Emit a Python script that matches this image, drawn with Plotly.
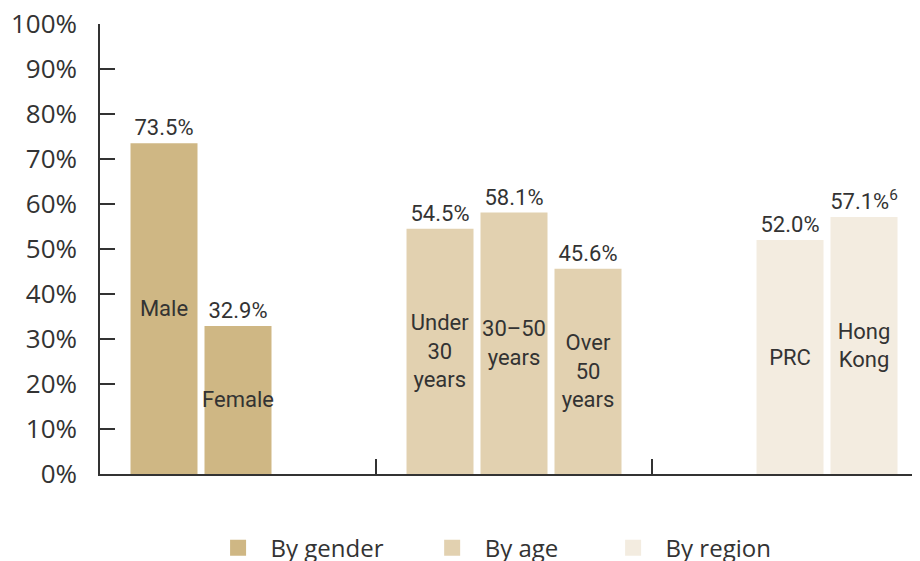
import plotly.graph_objects as go

# ---- data ----
groups = ["By gender", "By age", "By region"]
group_colors = ["#CFB784", "#E2D1B0", "#F3ECE0"]

gender_names = ["Male", "Female"]
gender_values = [73.5, 32.9]
gender_notes = ["", ""]
gender_slots = [0, 1]

age_names = ["Under<br>30<br>years", "30–50<br>years", "Over<br>50<br>years"]
age_values = [54.5, 58.1, 45.6]
age_notes = ["", "", ""]
age_slots = [0, 1, 2]

region_names = ["PRC", "Hong<br>Kong"]
region_values = [52.0, 57.1]
region_notes = ["", "6"]
region_slots = [1, 2]

legend_trailing = [7, 8, 0]

y_tick_values = list(range(0, 101, 10))
y_tick_labels = [f"{v}%" for v in y_tick_values]

# ---- build slot traces ----
group_data = [
    (gender_names, gender_values, gender_notes, gender_slots),
    (age_names, age_values, age_notes, age_slots),
    (region_names, region_values, region_notes, region_slots),
]

TEXT_COLOR = "#333333"
narrow = "Roboto, Open Sans, sans-serif"
wide = "Open Sans, Noto Sans, sans-serif"

fig = go.Figure()
for s in range(3):
    xs, ys, names, labels, colors = [], [], [], [], []
    for g, (nm, vals, notes, slots) in enumerate(group_data):
        if s in slots:
            i = slots.index(s)
            xs.append(groups[g])
            ys.append(vals[i])
            names.append(nm[i])
            lab = f"{vals[i]:.1f}%"
            if notes[i]:
                lab += f"<sup>{notes[i]}</sup>"
            labels.append(lab)
            colors.append(group_colors[g])
    fig.add_trace(go.Bar(
        x=xs, y=ys, offsetgroup=str(s), marker=dict(color=colors, line=dict(width=0)),
        text=names, textposition="inside", insidetextanchor="middle",
        constraintext="none", textangle=0,
        insidetextfont=dict(family=narrow, size=22, color=TEXT_COLOR),
        showlegend=False, hoverinfo="skip",
    ))
    fig.add_trace(go.Bar(
        x=xs, y=ys, offsetgroup=str(s), marker=dict(color="rgba(0,0,0,0)", line=dict(width=0)),
        text=labels, textposition="outside", constraintext="none", textangle=0,
        outsidetextfont=dict(family=narrow, size=22, color=TEXT_COLOR),
        cliponaxis=False, showlegend=False, hoverinfo="skip",
    ))

# legend proxies
for g, c, t in zip(groups, group_colors, legend_trailing):
    fig.add_trace(go.Scatter(
        x=[None], y=[None], mode="markers", name="\u00a0\u00a0" + g + "\u00a0" * t,
        marker=dict(symbol="square", size=20, color=c),
    ))

# page body has an 8px margin, so the figure is offset by 8px
fig.update_layout(
    width=912, height=553,
    margin=dict(l=92, r=0, t=16, b=87, autoexpand=False),
    plot_bgcolor="white", paper_bgcolor="white",
    barmode="group", bargap=0.1957, bargroupgap=0.0946,
    font=dict(family=wide, size=24, color=TEXT_COLOR),
    legend=dict(orientation="h", x=0.144, xanchor="left", y=-0.165, yanchor="middle",
                font=dict(family=wide, size=24, color=TEXT_COLOR),
                itemclick=False, itemdoubleclick=False),
    xaxis=dict(type="category", categoryorder="array", categoryarray=groups,
               range=[-0.5, 2.471], showticklabels=False, tickson="boundaries",
               ticks="inside", ticklen=15, tickcolor="#333333", tickwidth=1.5,
               showline=True, linecolor="#333333", linewidth=1.5, showgrid=False,
               zeroline=False, fixedrange=True, automargin=False),
    yaxis=dict(range=[0, 100], tickvals=y_tick_values, ticktext=y_tick_labels,
               ticks="inside", ticklen=15, tickcolor="#333333", tickwidth=1.5,
               showline=True, linecolor="#333333", linewidth=1.5, showgrid=False,
               zeroline=False, ticklabelstandoff=16, automargin=False,
               ticklabeloverflow="allow",
               tickfont=dict(family=wide, size=26, color=TEXT_COLOR), fixedrange=True),
)

fig.write_html("out.html")
